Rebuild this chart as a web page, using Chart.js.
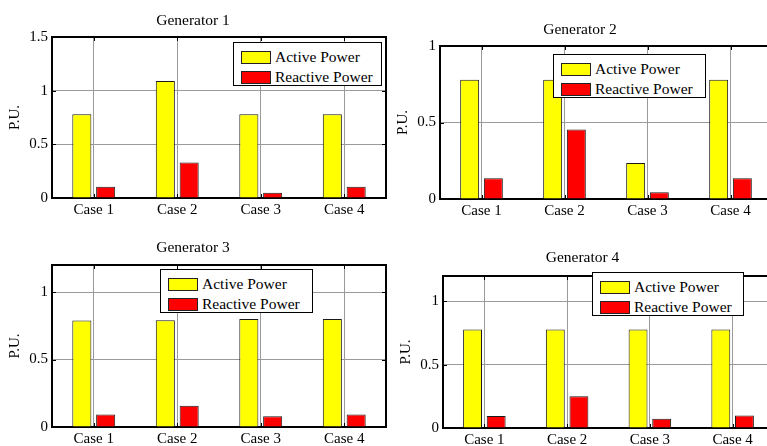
<!DOCTYPE html>
<html>
<head>
<meta charset="utf-8">
<script src="https://cdn.jsdelivr.net/npm/chart.js@4"></script>
<style>
html, body { margin: 0; padding: 0; background: #fff; overflow: hidden; width: 767px; height: 446px; }
canvas { position: absolute; }
.legend {
  position: absolute; background: #fff; border: 1.5px solid #000; box-sizing: border-box;
  font: 15.5px "Liberation Serif", "Times New Roman", serif; color: #000;
  padding: 4px 0 0 7px;
}
.legend .row { display: flex; align-items: center; height: 20px; }
.legend .sw { width: 30px; height: 13px; border: 1px solid #222; box-sizing: border-box; margin-right: 4px; }
</style>
</head>
<body>
<canvas id="gen1"></canvas>
<canvas id="gen2"></canvas>
<canvas id="gen3"></canvas>
<canvas id="gen4"></canvas>
<script>
// data
var categories = ['Case 1', 'Case 2', 'Case 3', 'Case 4'];
var seriesNames = ['Active Power', 'Reactive Power'];
var titles = ['Generator 1', 'Generator 2', 'Generator 3', 'Generator 4'];

var gen1Active   = [0.78, 1.09, 0.78, 0.78];
var gen1Reactive = [0.104, 0.33, 0.05, 0.104];
var gen2Active   = [0.78, 0.78, 0.235, 0.78];
var gen2Reactive = [0.135, 0.454, 0.044, 0.135];
var gen3Active   = [0.788, 0.79, 0.80, 0.80];
var gen3Reactive = [0.092, 0.158, 0.079, 0.092];
var gen4Active   = [0.777, 0.777, 0.777, 0.777];
var gen4Reactive = [0.094, 0.25, 0.074, 0.098];

var yTicks1 = [0, 0.5, 1, 1.5];
var yTicks2 = [0, 0.5, 1];
var yTicks3 = [0, 0.5, 1];
var yTicks4 = [0, 0.5, 1];
var yMax = [1.5, 1, 1.2, 1.2];

Chart.defaults.font.family = '"Liberation Serif", "Times New Roman", serif';
Chart.defaults.font.size = 15;
Chart.defaults.color = '#000';

// plot boxes on the page (left, top, right, bottom), title centre, legend box
var panels = [
  { id: 'gen1', l: 52, t: 37, r: 386, b: 198, ty: 21, lg: [233, 42, 149, 44], active: gen1Active, reactive: gen1Reactive, ticks: yTicks1 },
  { id: 'gen2', l: 440, t: 46, r: 772, b: 199, ty: 30, lg: [553, 54, 153, 44], active: gen2Active, reactive: gen2Reactive, ticks: yTicks2 },
  { id: 'gen3', l: 52, t: 265, r: 386, b: 427, ty: 248, lg: [160, 269, 153, 44], active: gen3Active, reactive: gen3Reactive, ticks: yTicks3 },
  { id: 'gen4', l: 443, t: 276, r: 774, b: 428, ty: 258, lg: [592, 272, 152, 44], active: gen4Active, reactive: gen4Reactive, ticks: yTicks4 }
];

var AXW = 52, AXH = 24, PADR = 4;

// box round the plot and inward ticks like matlab
var boxPlugin = {
  id: 'box',
  afterDraw: function (chart) {
    var ctx = chart.ctx, a = chart.chartArea;
    ctx.save();
    ctx.strokeStyle = '#000';
    ctx.lineWidth = 1;
    chart.scales.x.ticks.forEach(function (t, i) {
      var x = Math.round(chart.scales.x.getPixelForTick(i)) + 0.5;
      ctx.beginPath();
      ctx.moveTo(x, a.top); ctx.lineTo(x, a.top + 4);
      ctx.moveTo(x, a.bottom); ctx.lineTo(x, a.bottom - 4);
      ctx.stroke();
    });
    chart.scales.y.ticks.forEach(function (t) {
      var y = Math.round(chart.scales.y.getPixelForValue(t.value)) + 0.5;
      ctx.beginPath();
      ctx.moveTo(a.left, y); ctx.lineTo(a.left + 4, y);
      ctx.moveTo(a.right, y); ctx.lineTo(a.right - 4, y);
      ctx.stroke();
    });
    ctx.lineWidth = 2;
    ctx.beginPath();
    ctx.moveTo(a.left, a.top); ctx.lineTo(a.right, a.top); ctx.lineTo(a.right, a.bottom);
    ctx.stroke();
    ctx.restore();
  }
};

function makeLegend(chart, box) {
  var div = document.createElement('div');
  div.className = 'legend';
  div.style.left = box[0] + 'px';
  div.style.top = box[1] + 'px';
  div.style.width = box[2] + 'px';
  div.style.height = box[3] + 'px';
  chart.data.datasets.forEach(function (ds) {
    var row = document.createElement('div');
    row.className = 'row';
    var sw = document.createElement('span');
    sw.className = 'sw';
    sw.style.background = ds.backgroundColor;
    var tx = document.createElement('span');
    tx.textContent = ds.label;
    row.appendChild(sw);
    row.appendChild(tx);
    div.appendChild(row);
  });
  document.body.appendChild(div);
}

panels.forEach(function (p, k) {
  var cv = document.getElementById(p.id);
  var cl = p.l - AXW, ct = p.t - 40;
  var w = p.r - cl + PADR, h = p.b - ct + AXH;
  cv.style.left = cl + 'px';
  cv.style.top = ct + 'px';
  cv.width = w; cv.height = h;
  var lh = 15.5 * 1.2;
  var padTop = p.ty - ct - lh / 2;
  var padBot = 40 - padTop - lh;
  var ticks = p.ticks;

  var chart = new Chart(cv.getContext('2d'), {
    type: 'bar',
    data: {
      labels: categories,
      datasets: [
        { label: seriesNames[0], data: p.active, backgroundColor: '#ffff00', borderColor: '#1a1a1a', borderWidth: 1 },
        { label: seriesNames[1], data: p.reactive, backgroundColor: '#ff0000', borderColor: '#1a1a1a', borderWidth: 1 }
      ]
    },
    options: {
      responsive: false,
      animation: false,
      devicePixelRatio: 1,
      categoryPercentage: 0.571,
      barPercentage: 0.8,
      layout: { padding: { top: 0, left: 0, right: PADR, bottom: 0 } },
      plugins: {
        legend: { display: false },
        tooltip: { enabled: false },
        title: {
          display: true,
          text: titles[k],
          font: { size: 15.5, weight: 'normal' },
          padding: { top: padTop, bottom: padBot }
        }
      },
      scales: {
        x: {
          grid: { offset: false, color: '#9a9a9a', drawTicks: false },
          border: { color: '#000', width: 2 },
          ticks: { padding: 3 },
          afterFit: function (s) { s.height = AXH; }
        },
        y: {
          min: 0,
          max: yMax[k],
          grid: { color: '#9a9a9a', drawTicks: false },
          border: { color: '#000', width: 2 },
          ticks: { padding: 4, callback: function (v) { return String(v); } },
          afterBuildTicks: function (s) { s.ticks = ticks.map(function (v) { return { value: v }; }); },
          title: { display: true, text: 'P.U.', font: { size: 15 }, padding: { top: 6.5, bottom: 0 } },
          afterFit: function (s) { s.width = AXW; }
        }
      }
    },
    plugins: [boxPlugin]
  });
  makeLegend(chart, p.lg);
});
</script>
</body>
</html>
